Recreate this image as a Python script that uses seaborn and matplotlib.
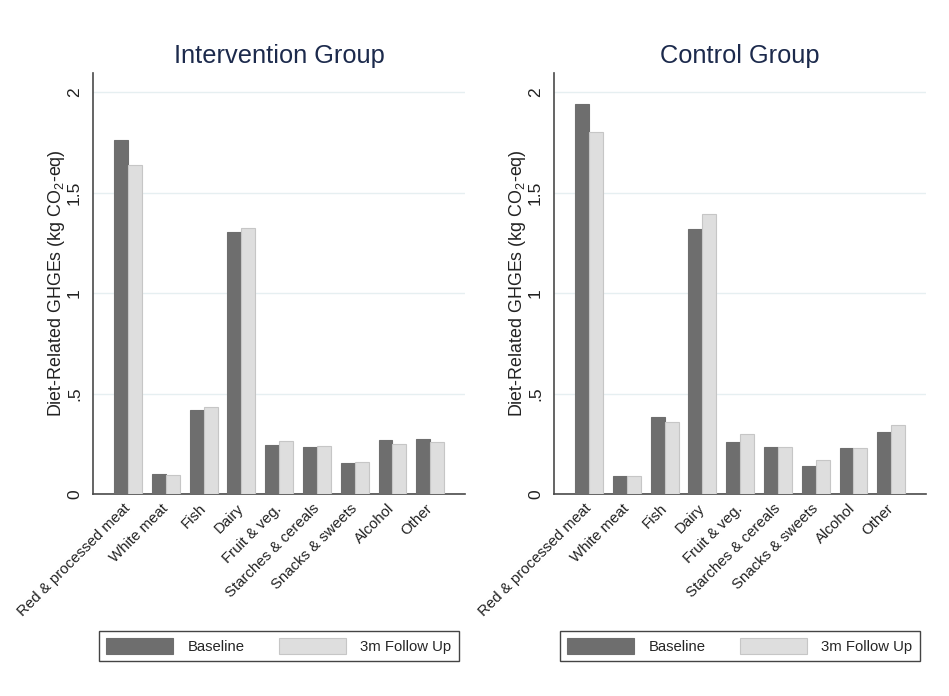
import matplotlib
matplotlib.use("Agg")
import matplotlib.pyplot as plt
from matplotlib.patches import Patch
import seaborn as sns
import pandas as pd

# Food categories and mean diet-related GHGEs (kg CO2-eq) per period
categories = ["Red & processed meat", "White meat", "Fish", "Dairy", "Fruit & veg.",
              "Starches & cereals", "Snacks & sweets", "Alcohol", "Other"]
periods = ["Baseline", "3m Follow Up"]

intervention_baseline = [1.76, 0.098, 0.418, 1.305, 0.244, 0.234, 0.156, 0.267, 0.274]
intervention_followup = [1.635, 0.095, 0.433, 1.322, 0.264, 0.240, 0.158, 0.247, 0.257]
control_baseline = [1.94, 0.088, 0.381, 1.317, 0.259, 0.234, 0.141, 0.230, 0.308]
control_followup = [1.80, 0.088, 0.357, 1.394, 0.297, 0.236, 0.168, 0.228, 0.342]

yticks = [0, 0.5, 1, 1.5, 2]
ytick_labels = ["0", ".5", "1", "1.5", "2"]

groups = [
    ("Intervention Group", intervention_baseline, intervention_followup),
    ("Control Group", control_baseline, control_followup),
]

sns.set_style("white")
plt.rcParams["font.family"] = ["Liberation Sans", "DejaVu Sans"]
plt.rcParams["mathtext.fontset"] = "custom"
plt.rcParams["mathtext.rm"] = "Liberation Sans"

dark = "#6e6e6e"
light = "#dedede"
palette = {"Baseline": dark, "3m Follow Up": light}
axis_color = "#4a4a4a"
title_color = "#1c2a4c"

fig = plt.figure(figsize=(9.49, 6.96), dpi=100)
ax_lefts = [93 / 949, 554 / 949]
ax_bottom = 1 - 494 / 696
ax_height = (494 - 73) / 696
ax_width = 372 / 949

for (title, base, follow), left in zip(groups, ax_lefts):
    ax = fig.add_axes([left, ax_bottom, ax_width, ax_height])
    df = pd.DataFrame({
        "category": categories * 2,
        "period": [periods[0]] * len(categories) + [periods[1]] * len(categories),
        "value": list(base) + list(follow),
    })
    sns.barplot(data=df, x="category", y="value", hue="period", order=categories,
                hue_order=periods, palette=palette, width=0.74, saturation=1,
                errorbar=None, legend=False, ax=ax, zorder=3)
    for bar, ec in zip(ax.patches, [dark] * len(categories) + ["#c6c6c6"] * len(categories)):
        bar.set_edgecolor(ec)
        bar.set_linewidth(0.8)

    ax.set_xlim(-0.93, 8.92)
    ax.set_ylim(0, 2.095)
    ax.set_yticks(yticks)
    ax.set_yticklabels(ytick_labels, rotation=90, va="center", fontsize=12.5, color="#222222")
    ax.yaxis.grid(True, color="#e6eff1", linewidth=1.0, zorder=0)
    ax.xaxis.grid(False)
    ax.tick_params(axis="y", direction="out", length=5, width=1, color=axis_color, pad=3)
    ax.tick_params(axis="x", length=0, pad=9)
    ax.set_xticks(range(len(categories)))
    ax.set_xticklabels(categories, rotation=45, ha="right", rotation_mode="anchor",
                       fontsize=10.8, color="#222222")
    for lbl in ax.get_xticklabels():
        lbl.set_verticalalignment("center")
    ax.set_xlabel("")
    ax.set_ylabel(r"Diet-Related GHGEs (kg CO$_\mathregular{2}$-eq)", fontsize=12.9,
                  color="#222222", labelpad=0)
    ax.set_title(title, fontsize=18.3, color=title_color, pad=7)
    for side in ["top", "right"]:
        ax.spines[side].set_visible(False)
    for side in ["left", "bottom"]:
        ax.spines[side].set_color(axis_color)
        ax.spines[side].set_linewidth(1.2)

    handles = [Patch(facecolor=dark, edgecolor=dark, linewidth=0.8),
               Patch(facecolor=light, edgecolor="#c6c6c6", linewidth=0.8)]
    lx = (left * 949 + 6) / 949
    fig.legend(handles, periods, loc="center", ncol=2, mode="expand",
               bbox_to_anchor=(lx, 1 - 646 / 696 - 0.01, 360 / 949, 0.02),
               bbox_transform=fig.transFigure, fontsize=10.7, frameon=True,
               fancybox=False, edgecolor="#444444", framealpha=1,
               handlelength=4.5, handleheight=1.25, handletextpad=0.95,
               borderpad=0.5, borderaxespad=0)

fig.savefig("out.png", dpi=100, facecolor="white")
